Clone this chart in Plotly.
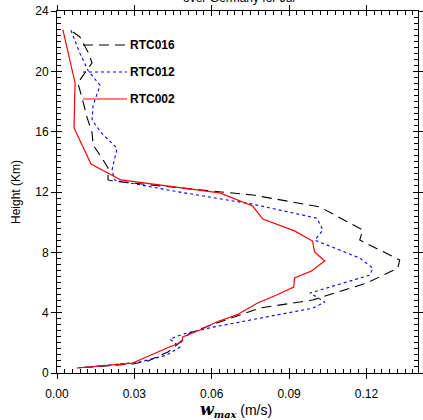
import plotly.graph_objects as go

# ---- data (w_max in m/s, height in km) ----
rtc002_w = [0.0023, 0.0070, 0.0066, 0.0132, 0.0248, 0.0631, 0.0759, 0.0798, 0.0921, 0.0991,
            0.0999, 0.1038, 0.0987, 0.0921, 0.0918, 0.0852, 0.0778, 0.0697, 0.0619, 0.0554,
            0.0488, 0.0484, 0.0418, 0.0360, 0.0329, 0.0294, 0.0077]
rtc002_h = [22.75, 19.23, 16.25, 13.86, 12.80, 11.94, 11.07, 10.21, 9.42, 8.75,
            8.02, 7.43, 6.76, 6.30, 5.70, 5.17, 4.64, 3.85, 3.38, 2.85,
            2.39, 2.06, 1.59, 1.19, 0.93, 0.66, 0.33]

rtc012_w = [0.0054, 0.0089, 0.0120, 0.0167, 0.0140, 0.0136, 0.0174, 0.0233, 0.0213, 0.0225,
            0.0477, 0.0760, 0.1008, 0.1031, 0.1000, 0.1174, 0.1225, 0.1213, 0.0981, 0.1039,
            0.0992, 0.0605, 0.0488, 0.0438, 0.0477, 0.0426, 0.0322, 0.0078]
rtc012_h = [22.72, 21.19, 20.07, 19.07, 17.75, 16.75, 15.89, 14.90, 13.44, 12.78,
            11.99, 11.19, 10.26, 9.47, 8.81, 7.62, 6.95, 6.49, 5.30, 4.70,
            4.30, 3.04, 2.58, 2.25, 1.72, 1.19, 0.73, 0.33]

rtc016_w = [0.0062, 0.0089, 0.0120, 0.0136, 0.0116, 0.0081, 0.0097, 0.0116, 0.0136, 0.0140,
            0.0174, 0.0198, 0.0198, 0.0217, 0.0477, 0.0760, 0.1019, 0.1186, 0.1174, 0.1329,
            0.1322, 0.1202, 0.0992, 0.0787, 0.0620, 0.0515, 0.0488, 0.0430, 0.0353, 0.0294,
            0.0078]
rtc016_h = [22.61, 22.28, 21.29, 20.56, 20.09, 19.23, 18.24, 16.98, 15.92, 15.12,
            14.26, 13.59, 12.80, 12.73, 12.27, 11.80, 11.01, 9.48, 8.82, 7.49,
            6.96, 5.97, 4.84, 4.31, 3.32, 2.65, 2.19, 1.39, 0.80, 0.60,
            0.33]

x_ticks = [0.00, 0.03, 0.06, 0.09, 0.12]
y_ticks = [0, 4, 8, 12, 16, 20, 24]
series_names = ["RTC016", "RTC012", "RTC002"]

FONT = "Liberation Sans, Arial, Helvetica, sans-serif"
XR = [0, 0.14]
YR = [0, 24]

fig = go.Figure()
styles = {
    "RTC016": dict(color="black", width=1.1, dash="10px,6px"),
    "RTC012": dict(color="#0000ff", width=1.1, dash="3px,3px"),
    "RTC002": dict(color="#ff0000", width=1.2, dash="solid"),
}
data = {"RTC016": (rtc016_w, rtc016_h), "RTC012": (rtc012_w, rtc012_h), "RTC002": (rtc002_w, rtc002_h)}
for name in series_names:
    w, h = data[name]
    fig.add_trace(go.Scatter(x=w, y=h, mode="lines", name=name, line=styles[name],
                             showlegend=False, xaxis="x", yaxis="y"))

# manual legend (paper coordinates)
leg_y = [0.906, 0.8315, 0.7569]
for name, ly in zip(series_names, leg_y):
    fig.add_shape(type="line", xref="paper", yref="paper", x0=0.072, x1=0.194, y0=ly, y1=ly,
                  line=styles[name])
    fig.add_annotation(text="<b>" + name + "</b>", xref="paper", yref="paper", x=0.198, y=ly,
                       xanchor="left", yanchor="middle", showarrow=False,
                       font=dict(family=FONT, size=12, color="black"))

# partially visible title (cut off at the top edge, as in the reference)
fig.add_annotation(text="over Germany for Jul", xref="paper", yref="paper", x=0.505, y=1.0,
                   yshift=4, xanchor="center", yanchor="bottom", showarrow=False,
                   font=dict(family=FONT, size=12, color="black"))

# x-axis title placed as an annotation below the tick labels
fig.add_annotation(text="<span style='font-family:DejaVu Serif;font-size:16px'><b><i>w</i></b></span>"
                        "<sub><span style='font-family:DejaVu Serif'><b><i>max</i></b></span></sub> (m/s)",
                   xref="paper", yref="paper", x=0.497, y=0.0, yshift=-37,
                   xanchor="center", yanchor="middle", showarrow=False,
                   font=dict(family=FONT, size=14, color="black"))

common_x = dict(range=XR, showgrid=False, zeroline=False, showline=True, linecolor="black",
                linewidth=1, tickcolor="black", tickwidth=1)
common_y = dict(range=YR, showgrid=False, zeroline=False, showline=True, linecolor="black",
                linewidth=1, tickcolor="black", tickwidth=1)

fig.update_layout(
    width=423, height=420,
    margin=dict(l=57, r=5, t=11, b=47, autoexpand=False),
    paper_bgcolor="white", plot_bgcolor="white",
    font=dict(family=FONT, size=12, color="black"),
    xaxis=dict(**common_x, tickvals=x_ticks, ticktext=[f"{v:.2f}" for v in x_ticks],
               ticks="outside", ticklen=5, mirror="ticks", anchor="y",
               tickfont=dict(size=12), ticklabelstandoff=5, ticklabeloverflow="allow"),
    yaxis=dict(**common_y, tickvals=y_ticks, ticks="outside", ticklen=5, mirror="ticks", anchor="x",
               tickfont=dict(size=12), ticklabeloverflow="allow",
               title=dict(text="Height (Km)", font=dict(size=12), standoff=12)),
    xaxis2=dict(**common_x, overlaying="x", anchor="y2", side="bottom", tickvals=x_ticks,
                ticks="inside", ticklen=5, mirror="ticks", showticklabels=False,
                minor=dict(dtick=0.003, tick0=0, ticks="inside", ticklen=4, tickcolor="black")),
    yaxis2=dict(**common_y, overlaying="y", anchor="x2", side="left", tickvals=y_ticks,
                ticks="inside", ticklen=5, mirror="ticks", showticklabels=False,
                minor=dict(dtick=0.4, tick0=0, ticks="inside", ticklen=4, tickcolor="black")),
)
# invisible trace so the overlay axes are drawn
fig.add_trace(go.Scatter(x=[None], y=[None], xaxis="x2", yaxis="y2", showlegend=False,
                         hoverinfo="skip"))

# remove the default 8px page margin so the figure fills the window exactly
fig.write_html("out.html", config={"displayModeBar": False},
               post_script="document.body.style.margin='0';")
